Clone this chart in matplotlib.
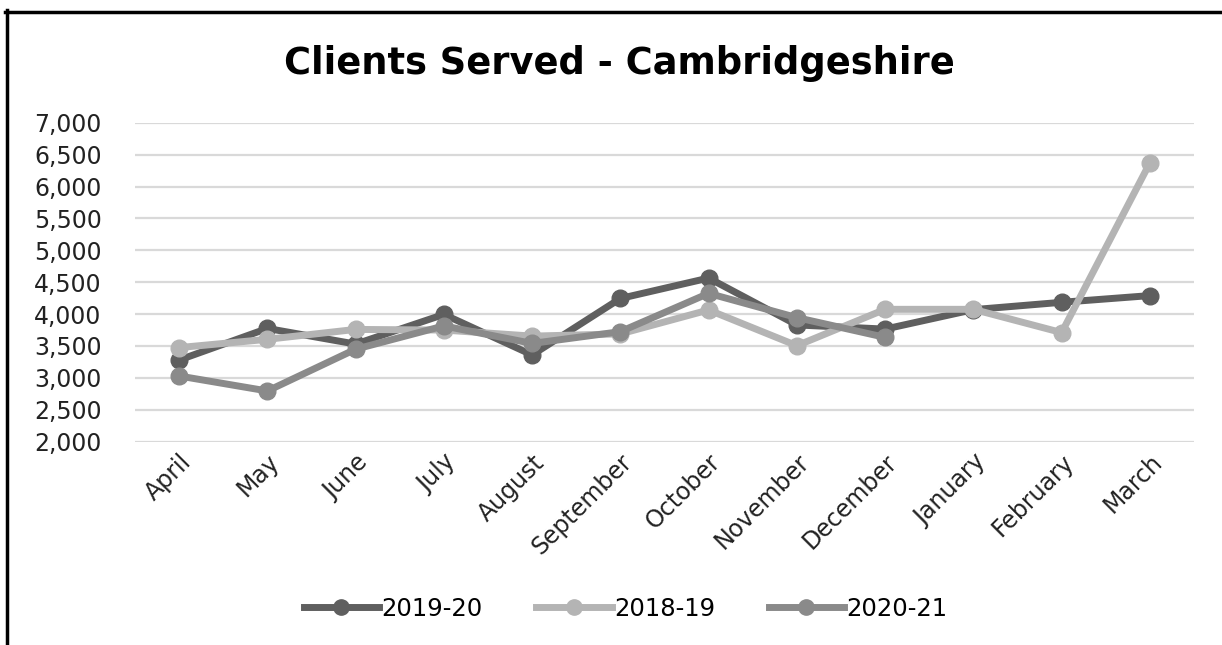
import matplotlib.pyplot as plt
from matplotlib.lines import Line2D
from matplotlib.ticker import FuncFormatter

plt.rcParams['font.family'] = ['DejaVu Sans']

months = ['April', 'May', 'June', 'July', 'August', 'September', 'October',
          'November', 'December', 'January', 'February', 'March']

# clients served per month
y2019_20 = [3280, 3775, 3530, 3995, 3360, 4245, 4565, 3830, 3765, 4070, 4185, 4290]
y2018_19 = [3475, 3605, 3760, 3750, 3655, 3690, 4065, 3505, 4075, 4075, 3710, 6370]
y2020_21 = [3030, 2795, 3450, 3815, 3540, 3725, 4325, 3945, 3635]

series = ['2019-20', '2018-19', '2020-21']
colours = ['#5f5f5f', '#b4b4b4', '#8a8a8a']

fig = plt.figure(figsize=(12.22, 6.45), dpi=100)
ax = fig.add_axes([135 / 1222, 1 - 441.7 / 645, (1194 - 135) / 1222, 319 / 645])

x = list(range(len(months)))
for vals, name, c in zip([y2019_20, y2018_19, y2020_21], series, colours):
    ax.plot(x[:len(vals)], vals, color=c, lw=5, marker='o', ms=12,
            label=name, solid_joinstyle='round', zorder=3)

ax.set_xlim(-0.5, len(months) - 0.5)
ax.set_ylim(2000, 7000)
ax.set_yticks(range(2000, 7001, 500))
ax.yaxis.set_major_formatter(FuncFormatter(lambda v, p: f'{int(v):,}'))
ax.grid(axis='y', color='#d9d9d9', lw=1.6, zorder=0)
for s in ax.spines.values():
    s.set_visible(False)
ax.tick_params(axis='y', length=0, pad=24, labelsize=17, labelcolor='#222222')
ax.tick_params(axis='x', length=0, pad=6, labelsize=17, labelcolor='#222222')
ax.set_xticks(x)
ax.set_xticklabels(months, rotation=45, ha='right', rotation_mode='anchor')

fig.text(0.5065, 1 - 63 / 645, 'Clients Served - Cambridgeshire', ha='center',
         va='center', fontsize=26.5, fontweight='bold', color='black')

handles = [Line2D([], [], color=c, lw=5, marker='o', ms=11) for c in colours]
fig.legend(handles, series, loc='center', bbox_to_anchor=(0.512, 1 - 609 / 645),
           ncol=3, frameon=False, fontsize=17.5, handlelength=3.1, columnspacing=2.2,
           handletextpad=0.1)

# black frame lines top and left
fig.add_artist(Line2D([5 / 1222, 1], [1 - 11.5 / 645, 1 - 11.5 / 645], color='black', lw=2.5))
fig.add_artist(Line2D([7 / 1222, 7 / 1222], [0, 1 - 10 / 645], color='black', lw=2.5))

fig.savefig('out.png', dpi=100, facecolor='white')
